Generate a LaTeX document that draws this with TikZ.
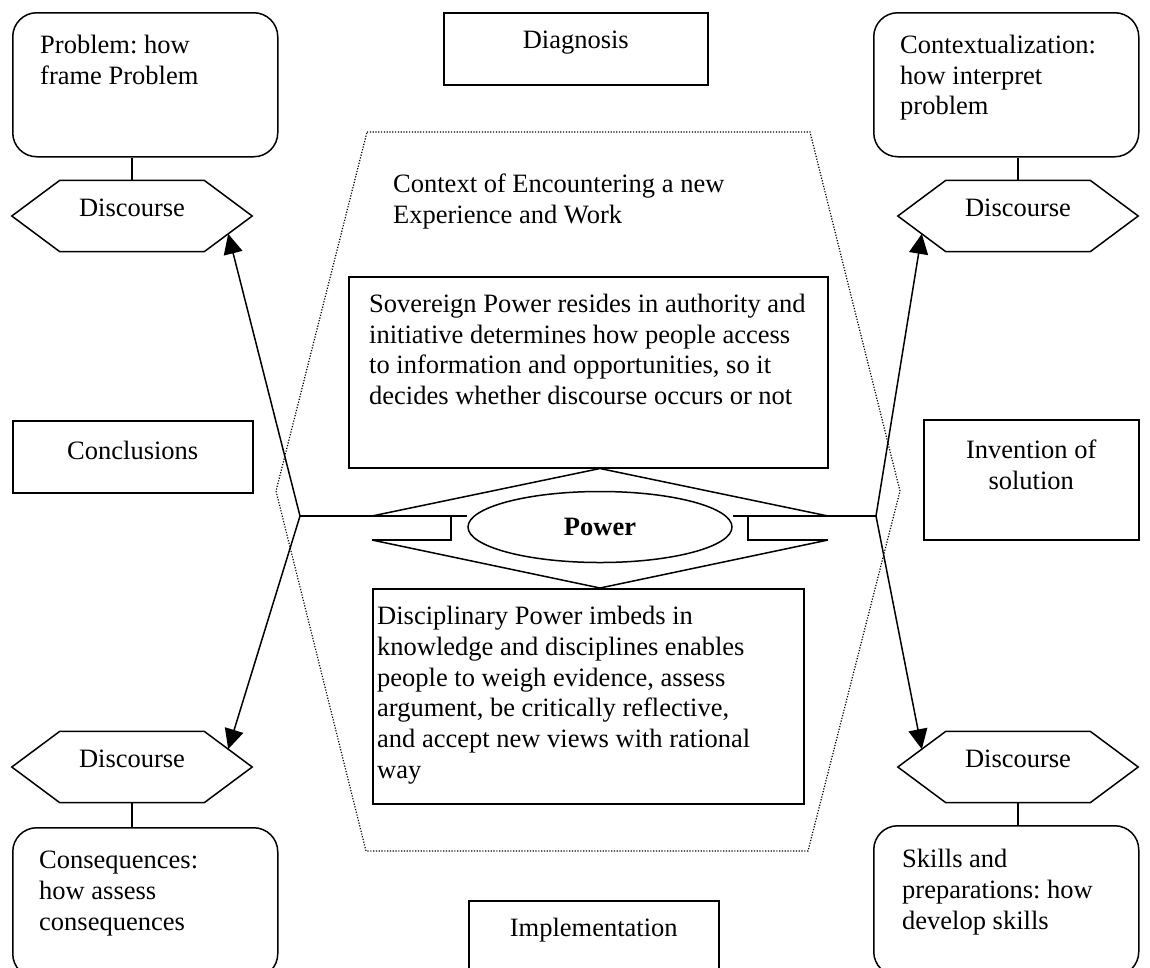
\documentclass[tikz,border=0pt]{standalone}
\usepackage{fontspec}
\setmainfont{Liberation Serif}
\usetikzlibrary{shapes.geometric, arrows.meta, calc}
\frenchspacing
\tikzset{
  block/.style={rectangle, draw, line width=1.5pt, anchor=north west, inner sep=0pt},
  roundblock/.style={block, rounded corners=24pt},
  discourse/.style={rectangle, inner sep=0pt, minimum width=240pt,
    minimum height=71pt, text depth=16pt, font=\fontsize{26.5}{30.7}\selectfont},
  powernode/.style={ellipse, draw, line width=1.5pt, inner sep=0pt, minimum width=264pt,
    minimum height=71pt, font=\fontsize{26.5}{30.7}\selectfont\bfseries},
  txt/.style={inner sep=0pt, align=left, anchor=north west, font=\fontsize{26.5}{30.7}\selectfont},
  ctxt/.style={txt, align=center, anchor=north},
  link/.style={line width=1.5pt},
  arrow/.style={line width=1.5pt, -{Triangle[length=20pt, width=19pt]}},
  dotframe/.style={line width=1.2pt, dash pattern=on 1.2pt off 1.6pt}
}
\newcommand{\hexa}[1]{\draw[link] (#1.west) -- ([xshift=48pt]#1.north west)
  -- ([xshift=-48pt]#1.north east) -- (#1.east) -- ([xshift=-48pt]#1.south east)
  -- ([xshift=48pt]#1.south west) -- cycle;}

\begin{document}
\begin{tikzpicture}[x=1pt, y=-1pt]
\path[use as bounding box, clip] (0,0) rectangle (1150,967);

\draw[dotframe] (367,132) -- (810,132) -- (900,491) -- (808,851) -- (366,851) -- (276,491) -- cycle;
\node[txt] (contexttext) at (393,174) {Context of Encountering a new\\Experience and Work};

\node[roundblock, minimum width=265pt, minimum height=144pt] (problem) at (12,12) {};
\node[txt] (problemtext) at ([shift={(28pt,-23pt)}]problem.north west) {Problem: how\\frame Problem};
\node[roundblock, minimum width=265pt, minimum height=144pt] (interpret) at (873,12) {};
\node[txt] (interprettext) at ([shift={(27pt,-23pt)}]interpret.north west) {Contextualization:\\how interpret\\problem};
\node[roundblock, minimum width=265pt, minimum height=150pt] (consequences) at (12,827) {};
\node[txt] (consequencestext) at ([shift={(27pt,-24pt)}]consequences.north west) {Consequences:\\how assess\\consequences};
\node[roundblock, minimum width=265pt, minimum height=150pt] (skills) at (873,825) {};
\node[txt] (skillstext) at ([shift={(29pt,-24pt)}]skills.north west) {Skills and\\preparations: how\\develop skills};

\node[block, minimum width=264pt, minimum height=72pt] (diagnosis) at (443,12) {};
\node[ctxt] (diagnosistext) at ([yshift=-19pt]diagnosis.north) {Diagnosis};
\node[block, minimum width=240pt, minimum height=72pt] (conclusions) at (12,420) {};
\node[ctxt] (conclusionstext) at ([yshift=-21pt]conclusions.north) {Conclusions};
\node[block, minimum width=215pt, minimum height=120pt] (invention) at (923,419) {};
\node[ctxt] (inventiontext) at ([yshift=-21pt]invention.north) {Invention of\\solution};
\node[block, minimum width=250pt, minimum height=100pt] (implementation) at (468,900) {};
\node[ctxt] (implementationtext) at ([yshift=-18pt]implementation.north) {Implementation};

\node[block, minimum width=479pt, minimum height=191pt] (sovereign) at (348,276) {};
\node[txt] (sovereigntext) at ([shift={(21pt,-18pt)}]sovereign.north west)
  {Sovereign Power resides in authority and\\initiative determines how people access\\to information and opportunities, so it\\decides whether discourse occurs or not};
\node[block, minimum width=431pt, minimum height=215pt] (discipline) at (372,588) {};
\node[txt] (disciplinetext) at ([shift={(5pt,-18pt)}]discipline.north west)
  {Disciplinary Power imbeds in\\knowledge and disciplines enables\\people to weigh evidence, assess\\argument, be critically reflective,\\and accept new views with rational\\way};

\node[discourse] (discTL) at (132,216) {Discourse};
\node[discourse] (discTR) at (1018,216) {Discourse};
\node[discourse] (discBL) at (132,767) {Discourse};
\node[discourse] (discBR) at (1018,767) {Discourse};
\foreach \d in {discTL,discTR,discBL,discBR} {\hexa{\d}}

\draw[link] (discTL.north) -- (discTL.north |- problem.south);
\draw[link] (discTR.north) -- (discTR.north |- interpret.south);
\draw[link] (discBL.south) -- (discBL.south |- consequences.north);
\draw[link] (discBR.south) -- (discBR.south |- skills.north);

\node[powernode] (power) at (600,527) {Power};
\coordinate (jl) at (300,516);
\coordinate (jr) at (876,516);
\coordinate (ulft) at (372,516);
\coordinate (llft) at (372,540);
\coordinate (urgt) at (828,516);
\coordinate (lrgt) at (828,540);

\draw[link] (ulft) -- (power |- sovereign.south) -- (urgt);
\draw[link] (llft) -- (power |- discipline.north) -- (lrgt);
\draw[link] (jl) -- (jl -| power.west);
\draw[link] (jr) -- (jr -| power.east);
\draw[link] (llft) -| (451,516);
\draw[link] (lrgt) -| (748,516);

\draw[arrow] (jl) -- ($(discTL.east)!.5!([xshift=-48pt]discTL.south east)$);
\draw[arrow] (jl) -- ($(discBL.east)!.5!([xshift=-48pt]discBL.north east)$);
\draw[arrow] (jr) -- ($(discTR.west)!.5!([xshift=48pt]discTR.south west)$);
\draw[arrow] (jr) -- ($(discBR.west)!.5!([xshift=48pt]discBR.north west)$);
\end{tikzpicture}
\end{document}
